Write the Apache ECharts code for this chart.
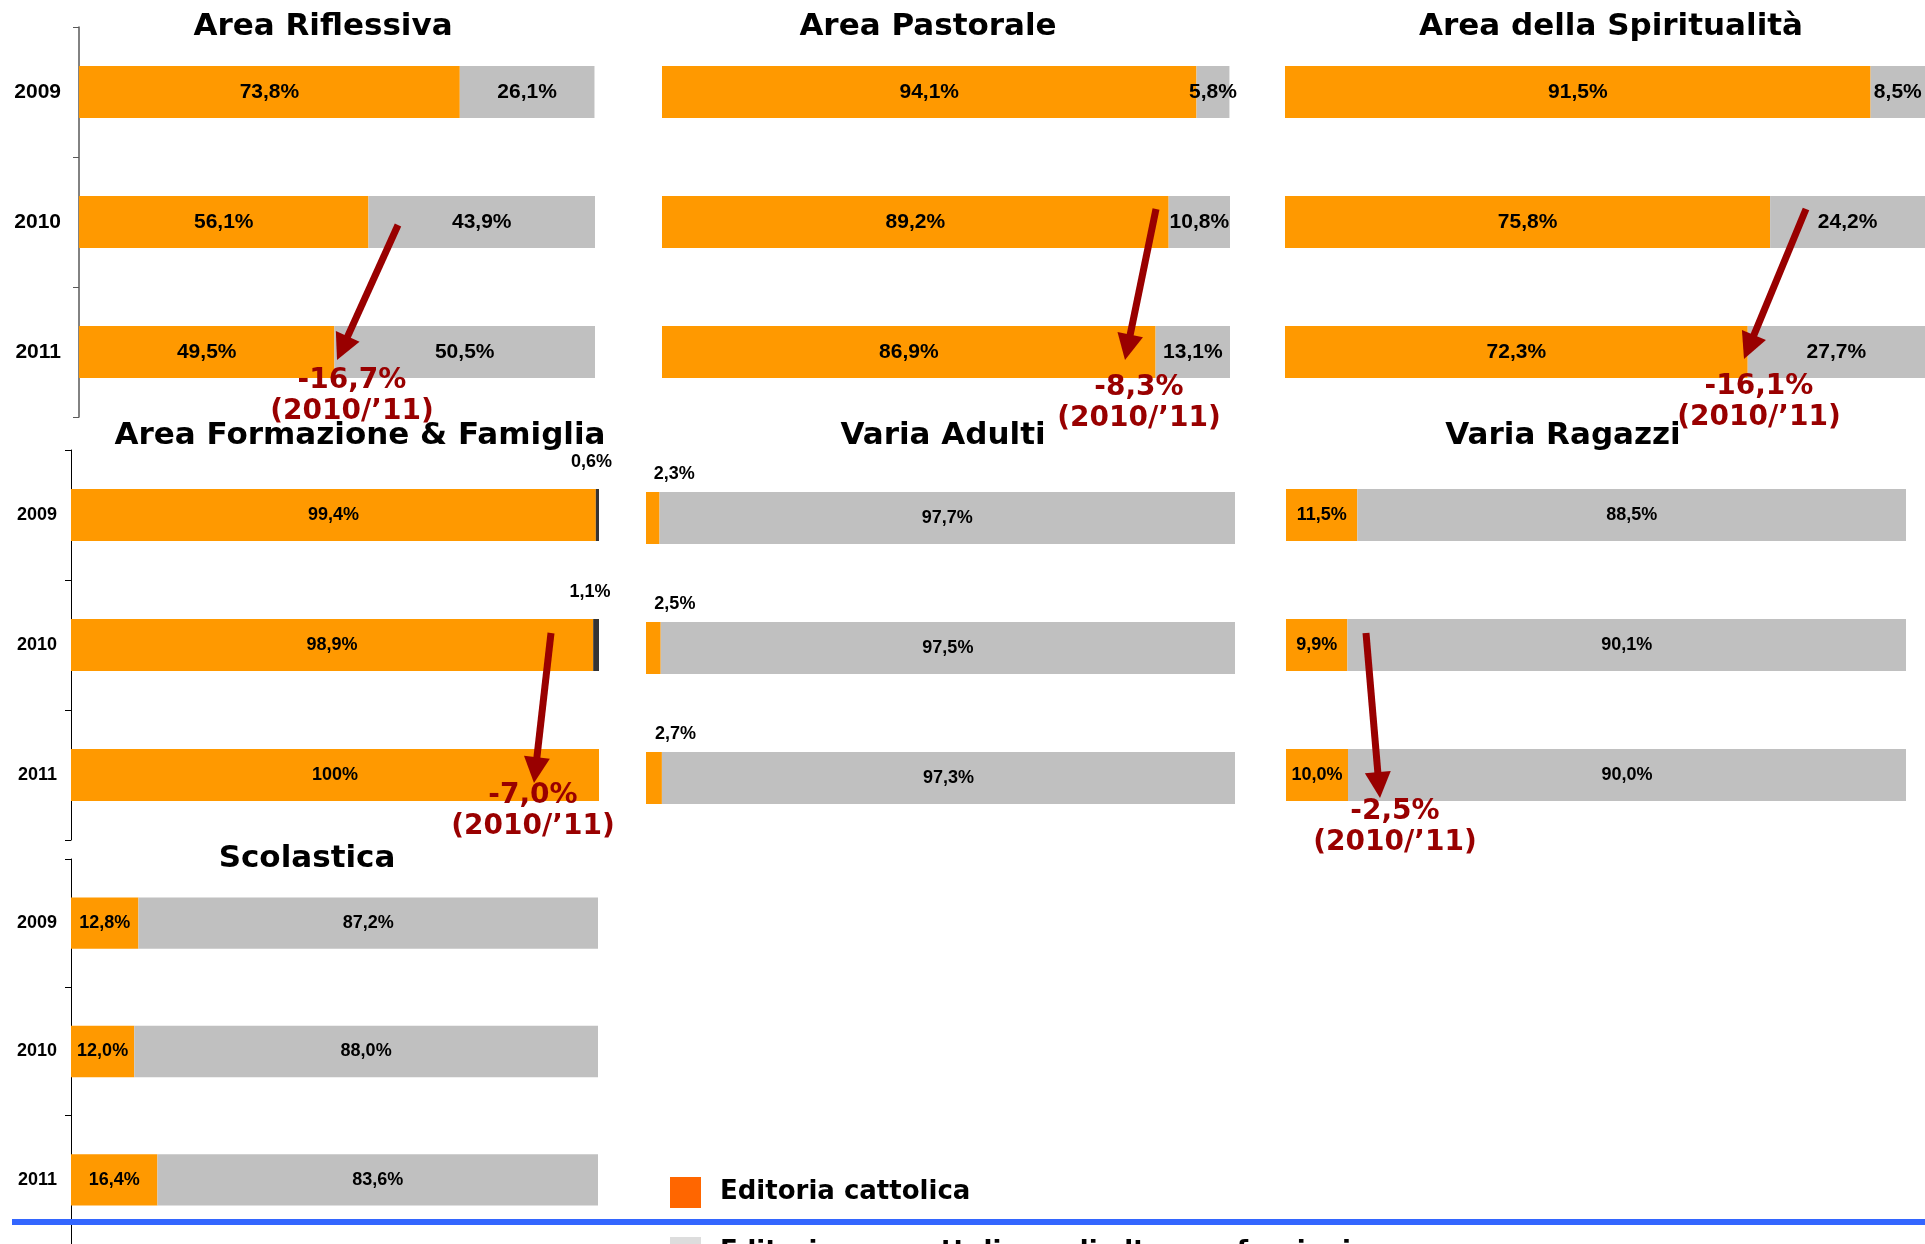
<!DOCTYPE html>
<html>
<head>
<meta charset="utf-8">
<title>Editoria cattolica per area</title>
<script src="https://cdn.jsdelivr.net/npm/echarts@6/dist/echarts.min.js"></script>
<style>
  html, body { margin: 0; padding: 0; background: #fff; }
  #chart { width: 1925px; height: 1244px; }
</style>
</head>
<body>
<div id="chart"></div>
<script>
// categories
var years = ['2009', '2010', '2011'];

// panel titles
var panelTitles = ['Area Riflessiva', 'Area Pastorale', 'Area della Spiritualità',
  'Area Formazione & Famiglia', 'Varia Adulti', 'Varia Ragazzi', 'Scolastica'];

// series names
var nameCatt = 'Editoria cattolica';
var nameAltre = 'Editoria non cattolica e di altre confessioni';

// values (% share), 2009 / 2010 / 2011
var riflessivaCatt = [73.8, 56.1, 49.5];
var riflessivaAltre = [26.1, 43.9, 50.5];
var pastoraleCatt = [94.1, 89.2, 86.9];
var pastoraleAltre = [5.8, 10.8, 13.1];
var spiritCatt = [91.5, 75.8, 72.3];
var spiritAltre = [8.5, 24.2, 27.7];
var formazCatt = [99.4, 98.9, 100];
var formazAltre = [0.6, 1.1, 0];
var adultiCatt = [2.3, 2.5, 2.7];
var adultiAltre = [97.7, 97.5, 97.3];
var ragazziCatt = [11.5, 9.9, 10.0];
var ragazziAltre = [88.5, 90.1, 90.0];
var scolasticaCatt = [12.8, 12.0, 16.4];
var scolasticaAltre = [87.2, 88.0, 83.6];

// variation 2010/'11 annotations
var variations = ['-16,7%', '-8,3%', '-16,1%', '-7,0%', '-2,5%'];
var variationNote = '(2010/\u201911)';

var cattData = [riflessivaCatt, pastoraleCatt, spiritCatt, formazCatt, adultiCatt, ragazziCatt, scolasticaCatt];
var altreData = [riflessivaAltre, pastoraleAltre, spiritAltre, formazAltre, adultiAltre, ragazziAltre, scolasticaAltre];

var ORANGE = '#FF9900', GREY = '#C0C0C0', DARK = '#333333', RED = '#990000';
var TITLE_FONT = '"DejaVu Sans", Verdana, sans-serif';
var NUM_FONT = '"Liberation Sans", Arial, sans-serif';

// layout of the 7 small charts
var grids = [
  { left: 79, top: 27, width: 516, height: 390 },
  { left: 662, top: 27, width: 568, height: 390 },
  { left: 1285, top: 27, width: 641, height: 390 },
  { left: 71, top: 450, width: 528, height: 390 },
  { left: 646, top: 453, width: 589, height: 390 },
  { left: 1286, top: 450, width: 620, height: 390 },
  { left: 71, top: 859, width: 527, height: 390 }
];
var titlePos = [[323, 11], [928, 11], [1611, 11], [360, 420], [943, 420], [1563, 420], [307, 843]];
var showAxis = [true, false, false, true, false, false, true];

function fmt(p) {
  var v = p.value;
  if (!v) return '';
  if (v === 100) return '100%';
  return v.toFixed(1).replace('.', ',') + '%';
}

var xAxes = [], yAxes = [], series = [], titles = [];
grids.forEach(function (g, i) {
  var big = i < 3;
  var fs = big ? 21 : 18;
  titles.push({
    text: panelTitles[i], left: titlePos[i][0], top: titlePos[i][1], textAlign: 'center',
    padding: 0,
    textStyle: { fontFamily: TITLE_FONT, fontWeight: 'bold', fontSize: 31, color: '#000' }
  });
  xAxes.push({ type: 'value', gridIndex: i, min: 0, max: 100, show: false });
  yAxes.push({
    type: 'category', gridIndex: i, data: years, inverse: true,
    show: showAxis[i],
    axisLine: { show: true, lineStyle: { color: i === 0 ? '#595959' : '#000', width: i === 0 ? 1.5 : 1 } },
    axisTick: { show: true, length: 6, lineStyle: { color: i === 0 ? '#595959' : '#000' } },
    axisLabel: { margin: i === 0 ? 18 : 14, fontFamily: NUM_FONT, fontWeight: 'bold', fontSize: big ? 21 : 18, color: '#000' },
    splitLine: { show: false }
  });
  var baseLabel = { show: true, position: 'inside', formatter: fmt, fontFamily: NUM_FONT, fontWeight: 'bold', fontSize: fs, color: '#000' };
  var cattLabel = Object.assign({}, baseLabel);
  var altreLabel = Object.assign({}, baseLabel);
  if (i === 4) {
    cattLabel = Object.assign({}, baseLabel, { position: 'top', align: 'left', distance: 9, offset: [1, 0] });
  }
  if (i === 3) {
    altreLabel = Object.assign({}, baseLabel, { position: 'top', distance: 18, offset: [-6, 0] });
  }
  series.push({
    name: nameCatt, type: 'bar', stack: 's' + i, xAxisIndex: i, yAxisIndex: i,
    data: cattData[i], barWidth: '40%', itemStyle: { color: ORANGE },
    label: cattLabel
  });
  series.push({
    name: nameAltre, type: 'bar', stack: 's' + i, xAxisIndex: i, yAxisIndex: i,
    data: altreData[i], barWidth: '40%', itemStyle: { color: i === 3 ? DARK : GREY },
    label: altreLabel
  });
});

// annotation arrows: [startX, startY, tipX, tipY], text centre
var arrows = [
  [398, 225, 337, 360], [1156, 209, 1125, 360], [1806, 209, 1744, 359],
  [551, 633, 534, 783], [1366, 633, 1380, 798]
];
var notes = [[352, 396], [1139, 403], [1759, 402], [533, 811], [1395, 827]];

var graphics = [
  { type: 'rect', left: 12, top: 1219, shape: { width: 1913, height: 6 }, style: { fill: '#3366FF' }, z: 10 }
];
arrows.forEach(function (a, k) {
  var dx = a[2] - a[0], dy = a[3] - a[1];
  var len = Math.sqrt(dx * dx + dy * dy);
  var ux = dx / len, uy = dy / len;
  var L = 26, H = 13;
  var bx = a[2] - ux * L, by = a[3] - uy * L;
  graphics.push({
    type: 'line', shape: { x1: a[0], y1: a[1], x2: bx + ux * 2, y2: by + uy * 2 },
    style: { stroke: RED, lineWidth: 7 }, z: 20
  });
  graphics.push({
    type: 'polygon',
    shape: { points: [[a[2], a[3]], [bx - uy * H, by + ux * H], [bx + uy * H, by - ux * H]] },
    style: { fill: RED }, z: 20
  });
  graphics.push({
    type: 'text', x: notes[k][0], y: notes[k][1], z: 21,
    style: {
      text: variations[k] + '\n' + variationNote, fill: RED, align: 'center', verticalAlign: 'middle',
      font: 'bold 28px ' + TITLE_FONT, lineHeight: 31
    }
  });
});

var legendText = { fontFamily: TITLE_FONT, fontWeight: 'bold', fontSize: 26, color: '#000', padding: [0, 0, 0, 14] };
var chart = echarts.init(document.getElementById('chart'), null, { renderer: 'canvas' });
chart.setOption({
  animation: false,
  backgroundColor: '#fff',
  title: titles,
  grid: grids,
  xAxis: xAxes,
  yAxis: yAxes,
  legend: [
    {
      left: 670, top: 1177, padding: 0, itemWidth: 31, itemHeight: 31, icon: 'rect',
      selectedMode: false, textStyle: legendText,
      data: [{ name: nameCatt, itemStyle: { color: '#FF6600' } }]
    },
    {
      left: 670, top: 1237, padding: 0, itemWidth: 31, itemHeight: 31, icon: 'rect',
      selectedMode: false, textStyle: legendText,
      data: [{ name: nameAltre, itemStyle: { color: '#DDDDDD' } }]
    }
  ],
  graphic: graphics,
  series: series
});
</script>
</body>
</html>
